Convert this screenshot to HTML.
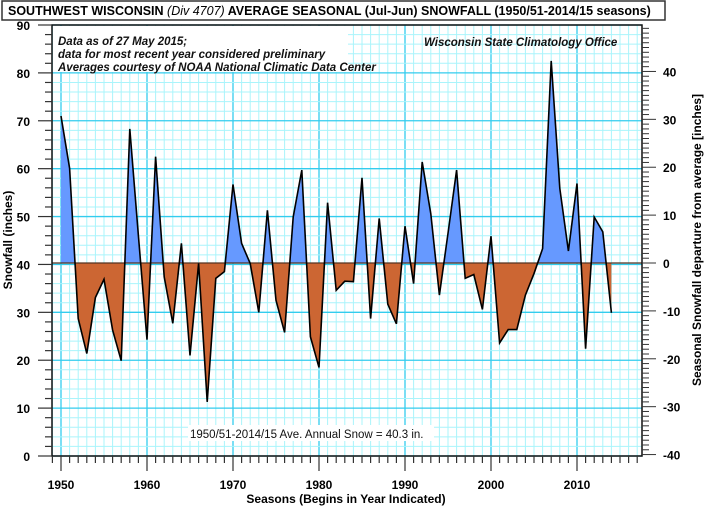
<!DOCTYPE html>
<html><head><meta charset="utf-8"><style>
body{margin:0;background:#fff;}
svg{display:block;font-family:"Liberation Sans",Arial,sans-serif;}
</style></head><body>
<svg id="chart" width="707" height="506" viewBox="0 0 707 506" xmlns="http://www.w3.org/2000/svg">
<rect x="0" y="0" width="707" height="506" fill="#fff"/>
<g id="grid"></g>
<g id="areas"></g>
<g id="axes"></g>
<rect x="2" y="1" width="663" height="19" fill="#fff" stroke="#333" stroke-width="1.5"/>
<text x="8" y="15" font-size="12.5" font-weight="bold" fill="#000">SOUTHWEST WISCONSIN <tspan font-style="italic" font-weight="normal">(Div 4707)</tspan> AVERAGE SEASONAL (Jul-Jun) SNOWFALL (1950/51-2014/15 seasons)</text>
<rect x="53" y="26" width="295" height="46" fill="#fff"/>
<g font-size="11.5" font-weight="bold" font-style="italic" fill="#111">
<text x="58" y="45">Data as of 27 May 2015;</text>
<text x="58" y="58">data for most recent year considered preliminary</text>
<text x="58" y="71">Averages courtesy of NOAA National Climatic Data Center</text>
</g>
<text x="424" y="46" font-size="11.5" font-weight="bold" font-style="italic" fill="#111">Wisconsin State Climatology Office</text>
<rect x="188" y="425" width="246" height="16" fill="#fff"/>
<text x="190" y="438" font-size="11.5" fill="#111">1950/51-2014/15 Ave. Annual Snow = 40.3 in.</text>
<text x="346" y="503" font-size="12" font-weight="bold" text-anchor="middle">Seasons (Begins in Year Indicated)</text>
<text transform="translate(12,240) rotate(-90)" font-size="12" font-weight="bold" text-anchor="middle">Snowfall  (inches)</text>
<text transform="translate(701,240) rotate(-90)" font-size="12" font-weight="bold" text-anchor="middle">Seasonal Snowfall departure from average [inches]</text>
</svg>
<script>
const years=[];for(let y=1950;y<=2014;y++)years.push(y);
const snowfall=[71.0,60.1,28.7,21.4,33.1,36.9,26.3,19.9,68.3,46.0,24.3,62.5,37.4,27.7,44.4,21.0,40.2,11.3,37.1,38.5,56.7,44.4,40.2,30.0,51.3,32.5,25.8,49.9,59.7,24.9,18.5,52.9,34.6,36.5,36.4,58.1,28.7,49.6,31.7,27.6,48.0,36.0,61.4,50.6,33.6,46.5,59.7,37.1,37.9,30.6,45.9,23.6,26.4,26.4,33.6,38.1,43.3,82.5,55.9,42.8,56.9,22.4,49.9,46.8,29.9];
const average=40.3;
const yTicks=[0,10,20,30,40,50,60,70,80,90];
const xTicks=[1950,1960,1970,1980,1990,2000,2010];
const depTicks=[-40,-30,-20,-10,0,10,20,30,40];
const L=52,R=642,T=25,B=456;
const X=y=>61+(y-1950)*8.6;
const Y=v=>B-v*(B-T)/90;
const NS="http://www.w3.org/2000/svg";
function mk(tag,attrs,parent){const e=document.createElementNS(NS,tag);for(const k in attrs)e.setAttribute(k,attrs[k]);parent.appendChild(e);return e;}
const grid=document.getElementById('grid'),areas=document.getElementById('areas'),axes=document.getElementById('axes');
// grid
for(let yr=1949;X(yr)<R;yr++){
 const ln=mk('line',{x1:X(yr),x2:X(yr),y1:T,y2:B,stroke:yr%10===0?'#33ccee':'#aaf4fb','stroke-width':yr%10===0?1.3:1},grid);
 
 
}
for(let v=0;v<=90;v+=2){
 const ln=mk('line',{x1:L,x2:R,y1:Y(v),y2:Y(v),stroke:v%10===0?'#33ccee':'#aaf4fb','stroke-width':v%10===0?1.3:1},grid);
 
 
}
// areas
const defs=mk('defs',{},areas);
const ca=mk('clipPath',{id:'above'},defs);mk('rect',{x:L,y:T,width:R-L,height:Y(average)-T},ca);
const cb=mk('clipPath',{id:'below'},defs);mk('rect',{x:L,y:Y(average),width:R-L,height:B-Y(average)},cb);
let pts=years.map((y,i)=>X(y)+','+Y(snowfall[i])).join(' ');
const poly=X(years[0])+','+Y(average)+' '+pts+' '+X(years[years.length-1])+','+Y(average);
const pa=mk('polygon',{points:poly,fill:'#6699ff','clip-path':'url(#above)'},areas);


const pb=mk('polygon',{points:poly,fill:'#cc6633','clip-path':'url(#below)'},areas);


const base=mk('line',{x1:L,x2:R,y1:Y(average),y2:Y(average),stroke:'#553322','stroke-width':1.3},areas);


const pl=mk('polyline',{points:pts,fill:'none',stroke:'#000','stroke-width':1.6,'stroke-linejoin':'miter'},areas);


// frame
const fr=mk('rect',{x:L,y:T,width:R-L,height:B-T,fill:'none',stroke:'#111','stroke-width':1.5},axes);


// left ticks
for(let v=0;v<=90;v+=2){mk('line',{x1:v%10===0?38:45,x2:L,y1:Y(v),y2:Y(v),stroke:'#333','stroke-width':1.2},axes);}
yTicks.forEach(v=>{const t=mk('text',{x:30,y:Y(v)+5,'font-size':12,'font-weight':'bold','text-anchor':'end'},axes);t.textContent=v;
 
 });
// bottom ticks
for(let yr=1949;X(yr)<R;yr++){mk('line',{x1:X(yr),x2:X(yr),y1:B,y2:yr%10===0?471:463,stroke:'#333','stroke-width':1.2},axes);}
xTicks.forEach(yr=>{const t=mk('text',{x:X(yr),y:489,'font-size':12,'font-weight':'bold','text-anchor':'middle'},axes);t.textContent=yr;
 
 });
// right ticks (departure)
for(let d=-40;d<=49;d++){const yy=Y(average+d);if(yy<T||yy>B)continue;mk('line',{x1:R,x2:d%10===0?656:649,y1:yy,y2:yy,stroke:'#333','stroke-width':1},axes);}
depTicks.forEach(d=>{const t=mk('text',{x:663,y:Y(average+d)+5,'font-size':12,'font-weight':'bold'},axes);t.textContent=d;
 
 });
</script>
</body></html>
